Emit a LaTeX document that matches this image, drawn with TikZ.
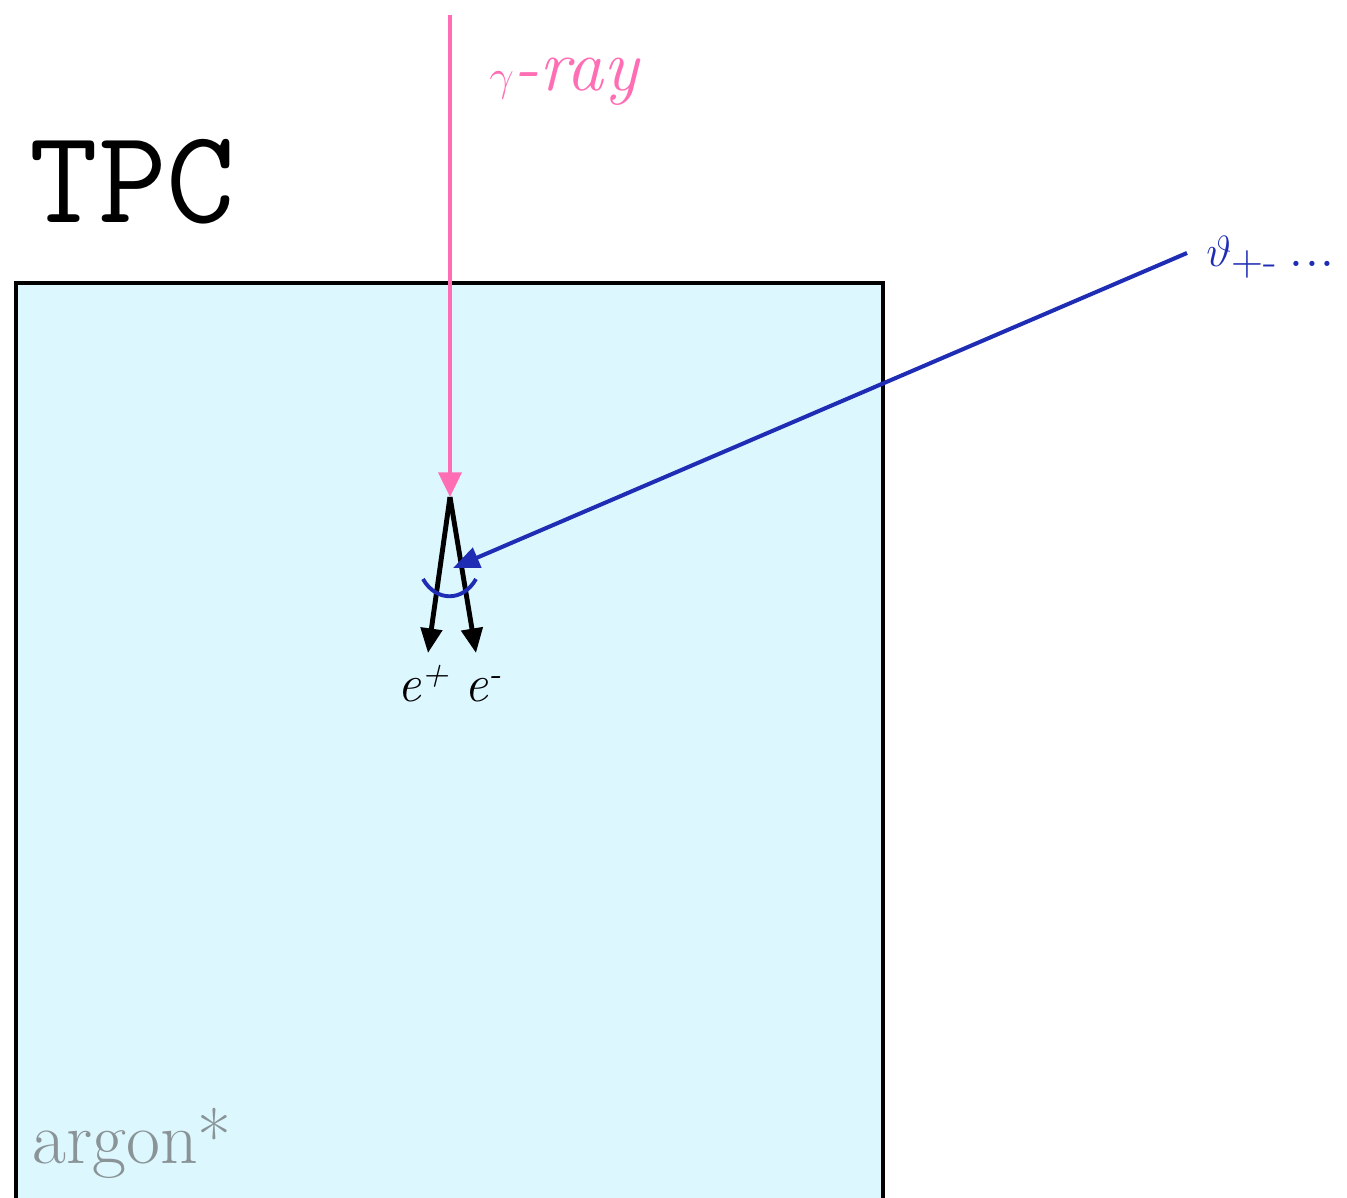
\documentclass[tikz,border=0pt]{standalone}
\usetikzlibrary{arrows.meta,positioning}
\definecolor{rayPink}{HTML}{FF6EB4}
\definecolor{trackBlue}{HTML}{1E2DB4}
\definecolor{argonFill}{HTML}{DDF7FF}
\definecolor{argonGray}{HTML}{8A9497}

\tikzset{
    label text/.style={anchor=base west, inner sep=0pt},
    ray/.style={line width=2.3pt, rayPink, -{Triangle[length=14pt, width=13pt]}},
    lepton/.style={line width=2.8pt, black, -{Triangle[length=14pt, width=12pt]}},
    probe/.style={line width=2.3pt, trackBlue, -{Triangle[length=15pt, width=12pt]}}
}

\begin{document}
\begin{tikzpicture}[x=0.02cm, y=-0.02cm]
    \useasboundingbox (0,0) rectangle (1347,1198);
    \clip (0,0) rectangle (1347,1198);

    % TPC volume
    \draw[line width=2pt, fill=argonFill] (16,283) rectangle (883,1240);
    \node[label text, font=\fontsize{76}{80}\selectfont\ttfamily] (tpc) at (29,222) {TPC};
    \node[label text, argonGray, font=\fontsize{42}{46}\selectfont] (argon) at (32,1163) {argon*};

    % Incoming photon
    \coordinate (src) at (450,15);
    \coordinate (vtx) at (450,497);
    \node[label text, rayPink, font=\fontsize{42}{46}\selectfont] (gamma) at (489,90) {$\gamma$\textit{-ray}};
    \draw[ray] (src) -- (vtx);

    % Pair tracks
    \coordinate (pos) at (428,653);
    \coordinate (ele) at (476,653);
    \draw[lepton] (vtx) -- (pos);
    \draw[lepton] (vtx) -- (ele);
    \node[label text, font=\fontsize{30}{34}\selectfont\itshape] (eplus) at (397,701) {e\textsuperscript{+}};
    \node[label text, font=\fontsize{30}{34}\selectfont\itshape] (eminus) at (464,701) {e\textsuperscript{-}};

    % Opening angle
    \coordinate (tail) at (1187,253);
    \coordinate (hit) at (453,568);
    \node[label text, trackBlue, font=\fontsize{36}{40}\selectfont] (theta) at (1206,266) {$\vartheta$\textsubscript{+-}\,...};
    \draw[probe] (tail) -- (hit);
    \draw[line width=2.2pt, trackBlue] (423,579) .. controls (436,602) and (463,602) .. (476,579);
\end{tikzpicture}
\end{document}
